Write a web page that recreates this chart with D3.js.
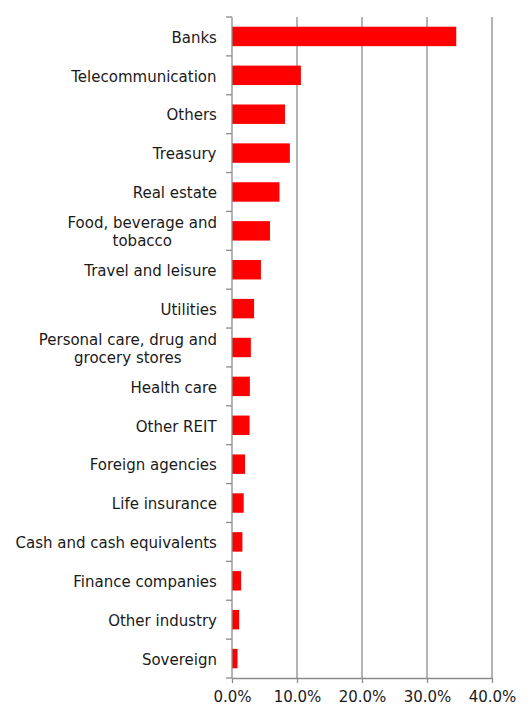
<!DOCTYPE html>
<html>
<head>
<meta charset="utf-8">
<script src="https://cdn.jsdelivr.net/npm/d3@7"></script>
<style>
  body { margin: 0; background: #fff; }
  text { font-family: "DejaVu Sans", Verdana, sans-serif; fill: #1a1a1a; }
</style>
</head>
<body>
<svg id="chart" width="530" height="706"></svg>
<script>
// sector labels (top to bottom), "\n" marks the line break in the original
const categories = [
  "Banks", "Telecommunication", "Others", "Treasury", "Real estate",
  "Food, beverage and\ntobacco", "Travel and leisure", "Utilities",
  "Personal care, drug and\ngrocery stores", "Health care", "Other REIT",
  "Foreign agencies", "Life insurance", "Cash and cash equivalents",
  "Finance companies", "Other industry", "Sovereign"
];
const values = [
  34.5, 10.6, 8.15, 8.9, 7.3, 5.85, 4.45, 3.4, 2.9, 2.75, 2.7,
  2.0, 1.8, 1.6, 1.4, 1.1, 0.85
];
const xTicks = [0, 10, 20, 30, 40];

const data = categories.map((c, i) => ({ c, v: values[i] }));

const svg = d3.select("#chart"),
    width = +svg.attr("width"),
    height = +svg.attr("height"),
    padding = { top: 17, right: 38, bottom: 28, left: 232 },
    innerW = width - padding.left - padding.right,
    innerH = height - padding.top - padding.bottom;

const g = svg.append("g")
    .attr("transform", `translate(${padding.left},${padding.top})`);

const x = d3.scaleLinear().domain([0, 40]).range([0, innerW]);
const y = d3.scaleBand().domain(categories).range([0, innerH]).paddingInner(0.5).paddingOuter(0.25);
const yEdge = d3.scaleLinear().domain([0, categories.length]).range([0, innerH]);

// vertical gridlines
g.selectAll(".grid")
    .data(xTicks.slice(1))
    .enter().append("line")
    .attr("x1", d => x(d)).attr("x2", d => x(d))
    .attr("y1", 0).attr("y2", innerH)
    .attr("stroke", "#8c8c8c").attr("stroke-width", 1.3);

// bars
g.selectAll(".bar")
    .data(data)
    .enter().append("rect")
    .attr("x", 0)
    .attr("y", d => y(d.c))
    .attr("width", d => x(d.v))
    .attr("height", y.bandwidth())
    .attr("fill", "#ff0000");

// y axis: line + ticks between categories
const axisColor = "#8c8c8c";
g.append("line")
    .attr("x1", 0).attr("x2", 0).attr("y1", 0).attr("y2", innerH)
    .attr("stroke", axisColor).attr("stroke-width", 1.3);
g.selectAll(".ytick")
    .data(d3.range(categories.length + 1))
    .enter().append("line")
    .attr("x1", -6).attr("x2", 0)
    .attr("y1", d => yEdge(d)).attr("y2", d => yEdge(d))
    .attr("stroke", axisColor).attr("stroke-width", 1.3);

// x axis
const xAxis = d3.axisBottom(x)
    .tickValues(xTicks)
    .tickFormat(d => d3.format(".1f")(d) + "%")
    .tickSizeInner(5).tickSizeOuter(0).tickPadding(8);
const xa = g.append("g")
    .attr("transform", `translate(0,${innerH})`)
    .call(xAxis);
xa.selectAll("line, path").attr("stroke", axisColor).attr("stroke-width", 1.3);
xa.selectAll("text")
    .style("font-family", "DejaVu Sans, Verdana, sans-serif")
    .style("font-size", "15px")
    .attr("fill", "#1a1a1a");

// category labels, right-aligned block with centred lines
const lineH = 18;
const labels = g.selectAll(".label")
    .data(data)
    .enter().append("text")
    .attr("class", "label")
    .style("font-size", "15px")
    .attr("text-anchor", "middle");

labels.each(function(d) {
    const lines = d.c.split("\n");
    const t = d3.select(this);
    const cy = y(d.c) + y.bandwidth() / 2 + 1;
    lines.forEach((ln, i) => {
        t.append("tspan")
            .attr("x", 0)
            .attr("y", cy + (i - (lines.length - 1) / 2) * lineH)
            .attr("dy", "0.35em")
            .text(ln);
    });
    // shift so the widest line ends 15px left of the axis
    const w = this.getBBox().width;
    t.selectAll("tspan").attr("x", -15 - w / 2);
});
</script>
</body>
</html>
